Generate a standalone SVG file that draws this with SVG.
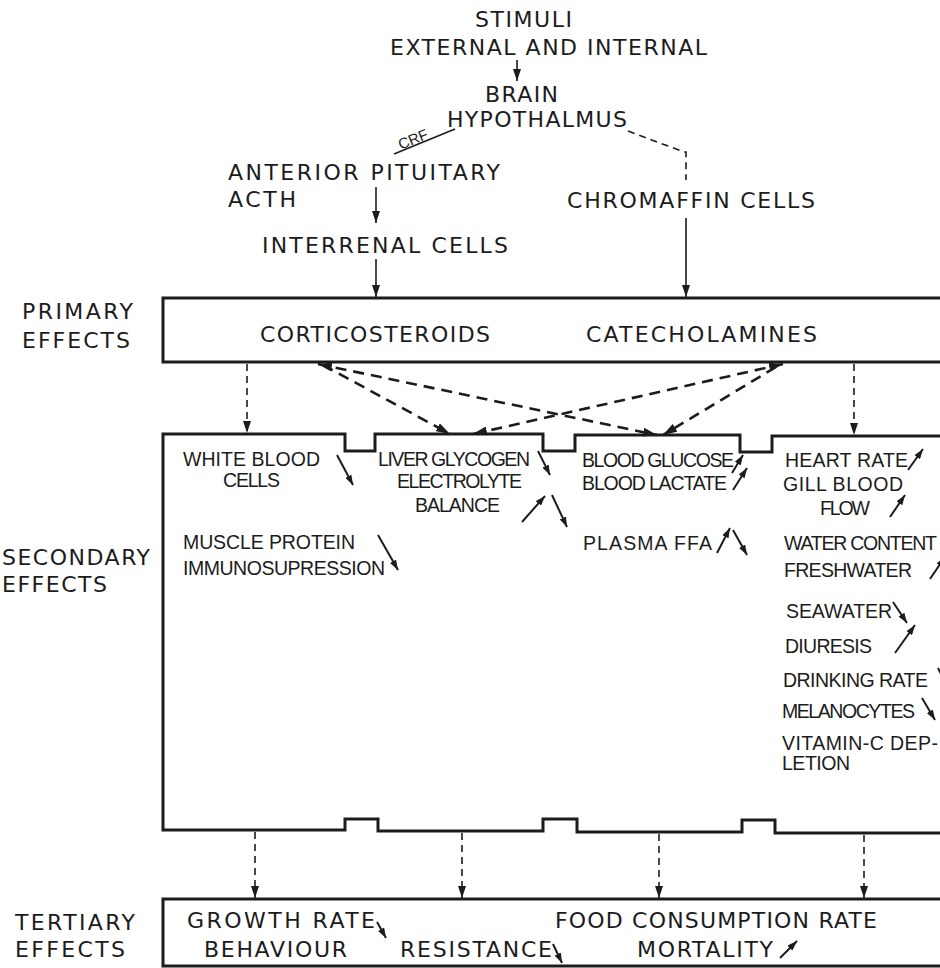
<svg xmlns="http://www.w3.org/2000/svg" width="940" height="968" viewBox="0 0 940 968">
<style>
text{font-family:"Liberation Sans","DejaVu Sans",Arial,sans-serif;fill:#1c1c1c}
.t{font-family:"DejaVu Sans","Liberation Sans",sans-serif;font-size:22px}
.s{font-size:19.5px}
.ln{stroke:#1c1c1c;stroke-width:1.6;fill:none}
.dv{stroke:#1c1c1c;stroke-width:1.6;fill:none;stroke-dasharray:7 5}
.dx{stroke:#1c1c1c;stroke-width:2.6;fill:none;stroke-dasharray:11 7}
.box{stroke:#1c1c1c;stroke-width:3;fill:none}
.ind{stroke:#1c1c1c;stroke-width:2;fill:none}
</style>
<defs>
<marker id="ah" viewBox="0 0 12 8" refX="12" refY="4" markerWidth="12" markerHeight="8" orient="auto-start-reverse" markerUnits="userSpaceOnUse"><path d="M0,0 L12,4 L0,8 Z" fill="#1c1c1c"/></marker>
<marker id="ahx" viewBox="0 0 14 9" refX="14" refY="4.5" markerWidth="14" markerHeight="9" orient="auto-start-reverse" markerUnits="userSpaceOnUse"><path d="M0,0 L14,4.5 L0,9 Z" fill="#1c1c1c"/></marker>
<marker id="as" viewBox="0 0 10 7" refX="10" refY="3.5" markerWidth="10" markerHeight="7" orient="auto" markerUnits="userSpaceOnUse"><path d="M0,0 L10,3.5 L0,7 Z" fill="#1c1c1c"/></marker>
</defs>
<rect width="940" height="968" fill="#ffffff"/>

<g id="stimuli">
<text class="t" x="475" y="27" textLength="97">STIMULI</text>
<text class="t" x="390" y="55" textLength="317">EXTERNAL AND INTERNAL</text>
</g>
<g id="brain">
<text class="t" x="485" y="102" textLength="73">BRAIN</text>
<text class="t" x="447" y="127" textLength="180">HYPOTHALMUS</text>
</g>
<g id="pituitary">
<text class="t" x="228" y="180" textLength="272">ANTERIOR PITUITARY</text>
<text class="t" x="228" y="207" textLength="68">ACTH</text>
</g>
<g id="interrenal">
<text class="t" x="262" y="253" textLength="246">INTERRENAL CELLS</text>
</g>
<g id="chromaffin">
<text class="t" x="567" y="208" textLength="248">CHROMAFFIN CELLS</text>
</g>

<g id="primary">
<rect class="box" x="163" y="298" width="800" height="64"/>
<text class="t" x="22" y="319" textLength="111">PRIMARY</text>
<text class="t" x="22" y="348" textLength="108">EFFECTS</text>
<text class="t" x="260" y="342" textLength="230">CORTICOSTEROIDS</text>
<text class="t" x="586" y="342" textLength="231">CATECHOLAMINES</text>
</g>

<g id="secondary">
<path class="box" stroke-width="2.6" d="M945,436 L772,436 L772,452 L740,452 L740,435 L575,435 L575,451 L543,451 L543,434 L375,434 L375,451 L345,451 L345,434 L163,434 L163,830 L345,830 L345,819 L378,819 L378,831 L543,831 L543,819 L577,819 L577,832 L742,832 L742,820 L775,820 L775,833 L945,833"/>
<text class="t" x="2" y="565" textLength="148">SECONDARY</text>
<text class="t" x="2" y="592" textLength="105">EFFECTS</text>
<text class="s" x="183" y="466" textLength="137">WHITE  BLOOD</text>
<text class="s" x="223" y="487" textLength="57">CELLS</text>
<text class="s" x="378" y="466" textLength="152">LIVER GLYCOGEN</text>
<text class="s" x="397" y="488" textLength="125">ELECTROLYTE</text>
<text class="s" x="415" y="512" textLength="85">BALANCE</text>
<text class="s" x="183" y="549" textLength="172">MUSCLE  PROTEIN</text>
<text class="s" x="183" y="575" textLength="202">IMMUNOSUPRESSION</text>
<text class="s" x="582" y="467" textLength="152">BLOOD GLUCOSE</text>
<text class="s" x="582" y="490" textLength="145">BLOOD LACTATE</text>
<text class="s" x="583" y="550" textLength="129">PLASMA  FFA</text>
<text class="s" x="785" y="467" textLength="123">HEART RATE</text>
<text class="s" x="783" y="491" textLength="120">GILL  BLOOD</text>
<text class="s" x="820" y="515" textLength="50">FLOW</text>
<text class="s" x="784" y="550" textLength="153">WATER CONTENT</text>
<text class="s" x="784" y="577" textLength="128">FRESHWATER</text>
<text class="s" x="786" y="618" textLength="106">SEAWATER</text>
<text class="s" x="785" y="653" textLength="87">DIURESIS</text>
<text class="s" x="783" y="687" textLength="145">DRINKING RATE</text>
<text class="s" x="782" y="718" textLength="133">MELANOCYTES</text>
<text class="s" x="782" y="750" textLength="156">VITAMIN-C DEP-</text>
<text class="s" x="782" y="770" textLength="68">LETION</text>
<g marker-end="url(#as)">
<line class="ind" x1="337" y1="455" x2="353" y2="485"/>
<line class="ind" x1="538" y1="451" x2="550" y2="475"/>
<line class="ind" x1="522" y1="522" x2="545" y2="496"/>
<line class="ind" x1="552" y1="495" x2="567" y2="527"/>
<line class="ind" x1="378" y1="535" x2="398" y2="570"/>
<line class="ind" x1="732" y1="473" x2="743" y2="455"/>
<line class="ind" x1="733" y1="490" x2="747" y2="468"/>
<line class="ind" x1="908" y1="470" x2="923" y2="449"/>
<line class="ind" x1="890" y1="517" x2="905" y2="495"/>
<line class="ind" x1="717" y1="553" x2="730" y2="528"/>
<line class="ind" x1="733" y1="530" x2="747" y2="555"/>
<line class="ind" x1="930" y1="579" x2="945" y2="557"/>
<line class="ind" x1="893" y1="602" x2="907" y2="623"/>
<line class="ind" x1="895" y1="653" x2="915" y2="625"/>
<line class="ind" x1="938" y1="668" x2="948" y2="688"/>
<line class="ind" x1="922" y1="698" x2="935" y2="720"/>
</g>
</g>

<g id="tertiary">
<rect class="box" stroke-width="2.6" x="163" y="899" width="800" height="67"/>
<text class="t" x="15" y="930" textLength="120">TERTIARY</text>
<text class="t" x="15" y="957" textLength="110">EFFECTS</text>
<text class="t" x="187" y="928" textLength="188">GROWTH RATE</text>
<text class="t" x="204" y="957" textLength="143">BEHAVIOUR</text>
<text class="t" x="400" y="957" textLength="152">RESISTANCE</text>
<text class="t" x="555" y="928" textLength="322">FOOD CONSUMPTION RATE</text>
<text class="t" x="637" y="957" textLength="136">MORTALITY</text>
<g marker-end="url(#as)">
<line class="ind" x1="377" y1="922" x2="386" y2="938"/>
<line class="ind" x1="553" y1="944" x2="562" y2="963"/>
<line class="ind" x1="780" y1="958" x2="797" y2="941"/>
</g>
</g>

<g id="connectors">
<line class="ln" x1="517" y1="60" x2="517" y2="81" marker-end="url(#ah)"/>
<line class="ln" stroke-width="2" x1="455" y1="129" x2="394" y2="154"/>
<text transform="translate(415,144) rotate(-22)" text-anchor="middle" font-size="15">CRF</text>
<line class="ln" x1="376" y1="187" x2="376" y2="223" marker-end="url(#ah)"/>
<line class="ln" x1="376" y1="259" x2="376" y2="297" marker-end="url(#ah)"/>
<path class="dv" stroke-width="2" stroke-dasharray="9 6" d="M628,131 L684,152 L686,152 L686,180"/>
<line class="ln" x1="686" y1="218" x2="686" y2="297" marker-end="url(#ah)"/>
<line class="dv" x1="247" y1="364" x2="247" y2="433" marker-end="url(#ah)"/>
<line class="dv" x1="854" y1="364" x2="854" y2="435" marker-end="url(#ah)"/>
<line class="dx" x1="323" y1="365" x2="450" y2="434" marker-end="url(#ahx)"/>
<line class="dx" x1="318" y1="364" x2="657" y2="435" marker-start="url(#ahx)" marker-end="url(#ahx)"/>
<line class="dx" x1="783" y1="364" x2="473" y2="434" marker-start="url(#ahx)" marker-end="url(#ahx)"/>
<line class="dx" x1="776" y1="367" x2="663" y2="435" marker-end="url(#ahx)"/>
<line class="dv" x1="255" y1="832" x2="255" y2="898" marker-end="url(#ah)"/>
<line class="dv" x1="462" y1="833" x2="462" y2="898" marker-end="url(#ah)"/>
<line class="dv" x1="659" y1="834" x2="659" y2="898" marker-end="url(#ah)"/>
<line class="dv" x1="864" y1="835" x2="864" y2="898" marker-end="url(#ah)"/>
</g>
</svg>
